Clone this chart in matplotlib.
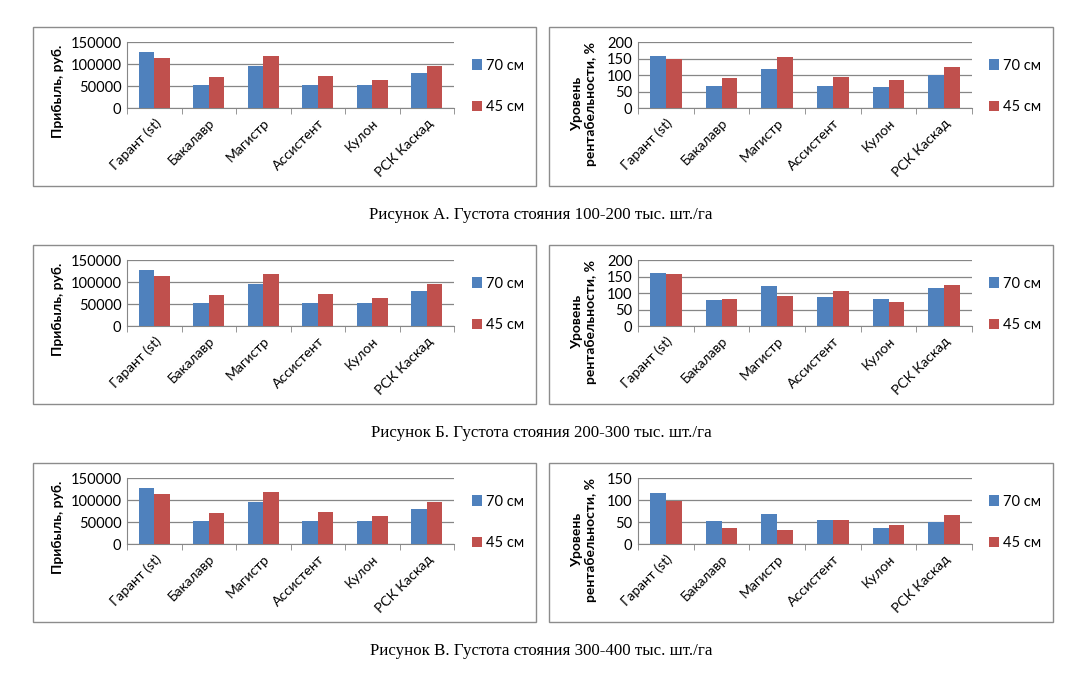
import matplotlib
matplotlib.use("Agg")
import matplotlib.pyplot as plt
from matplotlib.patches import Rectangle
import numpy as np

categories = ["Гарант (st)", "Бакалавр", "Магистр", "Ассистент", "Кулон", "РСК Каскад"]
series_names = ["70 см", "45 см"]

profit_70 = [128000, 53000, 96000, 53000, 53000, 80000]
profit_45 = [114000, 71000, 119000, 73000, 64000, 96000]

rent_A_70 = [159, 68, 120, 68, 65, 101]
rent_A_45 = [150, 92, 156, 95, 87, 126]
rent_B_70 = [162, 80, 123, 89, 83, 117]
rent_B_45 = [159, 83, 92, 108, 74, 126]
rent_C_70 = [117, 53, 69, 55, 37, 51]
rent_C_45 = [99, 37, 33, 55, 44, 67]

profit_ticks = [0, 50000, 100000, 150000]
rent_ticks_AB = [0, 50, 100, 150, 200]
rent_ticks_C = [0, 50, 100, 150]

captions = [
    "Рисунок А. Густота стояния 100-200 тыс. шт./га",
    "Рисунок Б. Густота стояния 200-300 тыс. шт./га",
    "Рисунок В. Густота стояния 300-400 тыс. шт./га",
]

BLUE = "#4F81BD"
RED = "#C0504D"
GRID = "#868686"
W, H = 1085, 676
FONT = ["Lato", "DejaVu Sans"]

fig = plt.figure(figsize=(W / 100, H / 100), dpi=100)
fig.patch.set_facecolor("white")


def fx(x):
    return x / W


def fy(y):
    return 1 - y / H


def add_box(x0, y0, x1, y1):
    fig.patches.append(Rectangle((fx(x0), fy(y1)), fx(x1) - fx(x0), fy(y0) - fy(y1),
                                 transform=fig.transFigure, fill=False,
                                 edgecolor="#8C8C8C", linewidth=1.0))


def draw_chart(x0, x1, top, bottom, v70, v45, ticks, ylabel, label_x, label_y,
               legx, legy):
    ax = fig.add_axes([fx(x0), fy(bottom), fx(x1) - fx(x0), fy(top) - fy(bottom)])
    n = len(categories)
    x = np.arange(n)
    bw = 1 / 3.5
    ax.bar(x - bw / 2, v70, width=bw, color=BLUE, zorder=3, label=series_names[0])
    ax.bar(x + bw / 2, v45, width=bw, color=RED, zorder=3, label=series_names[1])
    ax.set_xlim(-0.5, n - 0.5)
    ax.set_ylim(ticks[0], ticks[-1])
    ax.set_yticks(ticks)
    ax.set_yticklabels([str(t) for t in ticks], fontsize=10.5, family=FONT)
    ax.yaxis.grid(True, color=GRID, linewidth=0.9, zorder=0)
    ax.tick_params(axis="y", length=0, pad=4)
    ax.set_xticks(x)
    ax.set_xticklabels(categories, rotation=45, ha="right", rotation_mode="anchor",
                       fontsize=10, family=FONT)
    ax.tick_params(axis="x", which="major", length=0, pad=6)
    ax.set_xticks(np.arange(-0.5, n, 1), minor=True)
    ax.tick_params(axis="x", which="minor", length=4, color=GRID, direction="out")
    for s in ["top", "right"]:
        ax.spines[s].set_visible(False)
    ax.spines["left"].set_color(GRID)
    ax.spines["bottom"].set_color(GRID)
    ax.set_ylabel(ylabel, fontsize=10, fontweight="bold", family=FONT,
                  linespacing=1.1, va="center", ha="center")
    # label position in pixels -> axes fraction
    ax.yaxis.set_label_coords((label_x - x0) / (x1 - x0), (bottom - label_y) / (bottom - top))
    ax.set_facecolor("none")
    ax.legend(loc="center left", bbox_to_anchor=(fx(legx), fy(legy)),
              bbox_transform=fig.transFigure, frameon=False,
              prop={"family": FONT, "size": 10.5}, labelspacing=1.9,
              handlelength=0.7, handleheight=0.7, handletextpad=0.25,
              borderpad=0, borderaxespad=0)
    return ax


rent_data = [(rent_A_70, rent_A_45, rent_ticks_AB),
             (rent_B_70, rent_B_45, rent_ticks_AB),
             (rent_C_70, rent_C_45, rent_ticks_C)]

for r in range(3):
    off = 218 * r
    add_box(32.7, 27.3 + off, 535.7, 185.7 + off)
    add_box(548.7, 27.3 + off, 1053.3, 185.7 + off)
    draw_chart(127, 454, 42.3 + off, 108.3 + off, profit_70, profit_45, profit_ticks,
               "Прибыль, руб.", 58, 91 + off, 472, 86.5 + off)
    v70, v45, tk = rent_data[r]
    draw_chart(638, 972, 42.3 + off, 108.3 + off, v70, v45, tk,
               "Уровень\nрентабельности, %", 584, 104 + off, 989, 86.5 + off)
    fig.text(fx(541), fy(215 + off), captions[r], ha="center", va="center",
             fontsize=12.2, family=["Liberation Serif", "DejaVu Serif"])

fig.savefig("out.png", dpi=100, facecolor="white")
